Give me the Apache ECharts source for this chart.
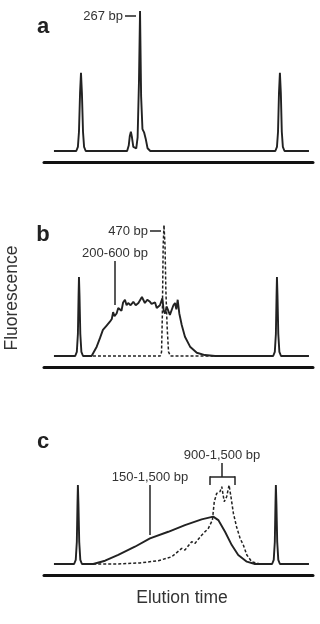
<!DOCTYPE html>
<html>
<head>
<meta charset="utf-8">
<script src="https://cdn.jsdelivr.net/npm/echarts@6/dist/echarts.min.js"></script>
<style>
  body { margin: 0; background: #fff; }
  #chart { width: 320px; height: 624px; }
</style>
</head>
<body>
<div id="chart"></div>
<script>
// elution time (0-100) vs fluorescence (baseline = 0)
const traceA = [
  [3.7, 0], [12.0, 0], [12.6, 3], [13.0, 14], [13.4, 42], [13.75, 57], [14.1, 42], [14.5, 14], [14.9, 3], [15.5, 0],
  [30.9, 0], [31.5, 4], [31.9, 11], [32.3, 14], [32.7, 10], [33.2, 3], [34.3, 2], [34.8, 10],
  [35.3, 50], [35.7, 102], [36.1, 40], [36.6, 16], [37.2, 13.6], [37.8, 9], [38.5, 2], [39.5, 0],
  [86.0, 0], [86.6, 3], [87.0, 14], [87.35, 42], [87.7, 57], [88.05, 42], [88.4, 14], [88.8, 3], [89.4, 0], [98.5, 0]
];
const traceBSolid = [
  [3.7, 0], [11.6, 0], [12.2, 3], [12.6, 16], [12.85, 44], [13.0, 57.5], [13.2, 44], [13.5, 16], [13.9, 3], [14.5, 0],
  [17.7, 0], [19.6, 6.8], [20.8, 13], [21.9, 19], [23.2, 22], [24.5, 25], [25.2, 27], [25.7, 32],
  [26.2, 29], [27.0, 31], [27.6, 35], [28.3, 36], [28.8, 33], [29.4, 39], [30.1, 41], [30.7, 37],
  [31.3, 38.6], [32.2, 37], [33.2, 39.5], [34.1, 37], [35.1, 38.6], [35.8, 40], [36.4, 43],
  [36.9, 44], [37.5, 38.6], [38.4, 41], [39.4, 39.5], [40.0, 38], [40.6, 37], [41.3, 39],
  [41.9, 35], [42.5, 36], [43.1, 37], [44.0, 42], [44.5, 33], [45.0, 31], [45.6, 36],
  [46.2, 35], [46.8, 30], [47.5, 31], [48.1, 37], [48.7, 38.6], [49.2, 34], [49.7, 41],
  [50.3, 31], [51.2, 22.6], [52.4, 14], [54.3, 6.8], [56.8, 2.4], [59.8, 0.7], [63.6, 0],
  [85.2, 0], [85.8, 3], [86.2, 16], [86.45, 44], [86.6, 57.5], [86.8, 44], [87.1, 16], [87.5, 3], [88.1, 0], [98.5, 0]
];
const traceBDashed = [
  [18.2, 0], [43.2, 0], [43.7, 3], [44.0, 30], [44.3, 80], [44.6, 95.4], [45.0, 80],
  [45.3, 48], [45.8, 20], [46.3, 3], [47.0, 0], [63.6, 0]
];
const traceCSolid = [
  [3.7, 0], [11.2, 0], [11.8, 3], [12.2, 16], [12.45, 44], [12.6, 57.5], [12.8, 44], [13.1, 16], [13.5, 3], [14.1, 0],
  [18.3, 0], [22.7, 2.4], [27.6, 6.6], [33.8, 12.6], [39.4, 18.7], [46.2, 23.5], [52.4, 28.4],
  [58.6, 32.5], [62.9, 34.5], [64.8, 32], [67.3, 23.5], [69.8, 13.8], [72.2, 6.6], [75.4, 1.7],
  [78.4, 0], [84.8, 0], [85.4, 3], [85.8, 16], [86.05, 44], [86.2, 57.5], [86.4, 44], [86.7, 16], [87.1, 3], [87.7, 0],
  [98.5, 0]
];
const traceCDashed = [
  [18.3, 0], [27.6, 0], [35.7, 0.8], [42.5, 2.4], [47.5, 5.3], [51.2, 11.4], [52.4, 10.2],
  [54.9, 16.3], [56.1, 15], [58.6, 21], [61.1, 26], [62.6, 32], [63.3, 45.4], [64.2, 51.5],
  [65.4, 52.7], [66.1, 56.3], [67.0, 45.4], [67.9, 49], [68.8, 57.5], [69.5, 49], [70.4, 37],
  [71.6, 27], [72.9, 18.7], [74.1, 13.8], [75.4, 6.6], [77.2, 1.7], [80.3, 0], [83.0, 0]
];

const ink = "#222";
const textColor = "#333";
const gridTops = [11, 216, 424];
const gridHeight = 151;

const chart = echarts.init(document.getElementById("chart"));

const grids = gridTops.map((t) => ({ left: 44, right: 7, top: t, height: gridHeight }));
const xAxes = gridTops.map((t, i) => ({
  type: "value", gridIndex: i, min: 0, max: 100,
  axisLine: { show: true, onZero: false, lineStyle: { color: "#111", width: 3 } },
  axisTick: { show: false }, axisLabel: { show: false }, splitLine: { show: false }
}));
const yAxes = gridTops.map((t, i) => ({
  type: "value", gridIndex: i, min: -8, max: 102, show: false, splitLine: { show: false }
}));

function line(data, idx, dashed) {
  return {
    type: "line", xAxisIndex: idx, yAxisIndex: idx, data: data,
    showSymbol: false, silent: true, animation: false,
    lineStyle: { color: ink, width: dashed ? 1.5 : 1.9, type: dashed ? [3, 2] : "solid" }
  };
}

function txt(x, y, s, opts) {
  return {
    type: "text", x: x, y: y,
    style: Object.assign({ text: s, fill: textColor, font: "13px 'Liberation Sans', Arial, sans-serif",
      align: "center", verticalAlign: "middle" }, opts || {})
  };
}
function seg(x1, y1, x2, y2) {
  return { type: "line", shape: { x1: x1, y1: y1, x2: x2, y2: y2 }, style: { stroke: ink, lineWidth: 1.5 } };
}

const panelFont = "bold 22px 'Liberation Sans', Arial, sans-serif";

const option = {
  animation: false,
  grid: grids,
  xAxis: xAxes,
  yAxis: yAxes,
  series: [
    line(traceA, 0, false),
    line(traceBDashed, 1, true),
    line(traceBSolid, 1, false),
    line(traceCDashed, 2, true),
    line(traceCSolid, 2, false)
  ],
  graphic: [
    txt(43, 27, "a", { font: panelFont, fill: "#222" }),
    txt(43, 235, "b", { font: panelFont, fill: "#222" }),
    txt(43, 442, "c", { font: panelFont, fill: "#222" }),
    // panel a
    txt(123, 16, "267 bp", { align: "right" }),
    seg(125, 16, 136, 16),
    // panel b
    txt(148, 231, "470 bp", { align: "right" }),
    seg(150, 231, 161, 231),
    txt(115, 253, "200-600 bp"),
    seg(115, 261, 115, 305),
    // panel c
    txt(222, 455, "900-1,500 bp"),
    seg(222, 463, 222, 477),
    seg(210, 477, 235, 477),
    seg(210, 476.3, 210, 485),
    seg(235, 476.3, 235, 485),
    txt(150, 477, "150-1,500 bp"),
    seg(150, 485, 150, 535),
    // axis titles
    txt(182, 598, "Elution time", { font: "17.5px 'Liberation Sans', Arial, sans-serif" }),
    {
      type: "text", x: 12, y: 298, rotation: Math.PI / 2,
      style: { text: "Fluorescence", fill: textColor, font: "17.5px 'Liberation Sans', Arial, sans-serif",
        align: "center", verticalAlign: "middle" }
    }
  ]
};

chart.setOption(option);
</script>
</body>
</html>
